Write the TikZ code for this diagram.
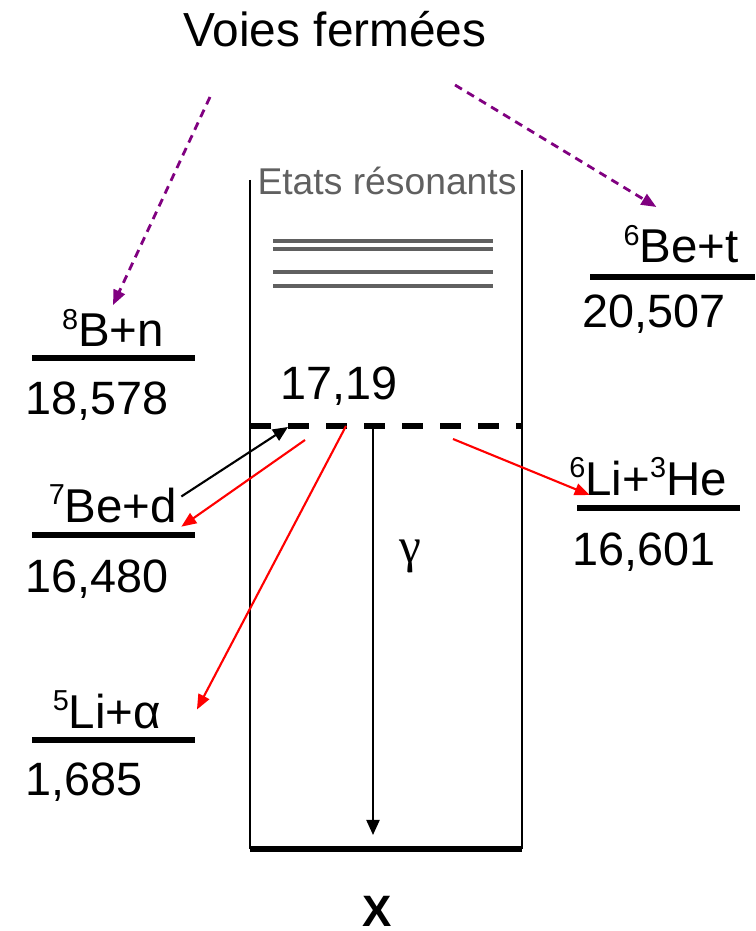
\documentclass[tikz,border=0pt]{standalone}
\usepackage{fontspec}
\setmainfont{Liberation Sans}
\newfontfamily\grserif{Liberation Serif}
\usetikzlibrary{arrows.meta,positioning,calc}
\definecolor{voiepurple}{RGB}{128,0,128}
\definecolor{resgrey}{RGB}{96,96,96}
\newcommand{\nuc}[2]{\raisebox{0.7ex}{\fontsize{8.2}{8.2}\selectfont #1}#2}

\begin{document}
\begin{tikzpicture}[x=0.01cm, y=-0.01cm,
    chan/.style={font=\fontsize{13.5}{16}\selectfont, inner sep=1pt, anchor=base},
    energy/.style={font=\fontsize{13.3}{16}\selectfont, inner sep=0pt, anchor=base west},
    lvl/.style={line width=1.6pt},
    wall/.style={line width=0.6pt},
    resstate/.style={line width=1pt, resgrey},
    voie/.style={-{Triangle[length=1.5mm,width=1.2mm]}, dash pattern=on 2.3pt off 1.7pt,
        line width=0.8pt, voiepurple},
    decay/.style={-{Triangle[length=1.5mm,width=1.2mm]}, line width=0.6pt, red},
    feed/.style={-{Triangle[length=1.5mm,width=1.3mm]}, line width=0.6pt, black}
]
    \useasboundingbox (0,0) rectangle (755,931);

    \node[font=\fontsize{13.6}{16}\selectfont, anchor=base] (title) at (335,47) {Voies fermées};

    % boite des etats
    \draw[wall] (250,180) -- (250,849);
    \draw[wall] (522,170) -- (522,849);
    \draw[lvl] (250,849) -- (522,849);
    \node[font=\fontsize{10.6}{12}\selectfont, text=resgrey, anchor=base, inner sep=0pt] (etats) at (387,195) {Etats résonants};
    \foreach \y in {241,249,272,286}
        \draw[resstate] (273,\y) -- (493,\y);
    \draw[line width=1.9pt, dash pattern=on 5.97pt off 4.84pt] (250,426) -- (522,426);
    \node[energy] (eres) at (280,400) {17,19};

    % voies de sortie
    \node[chan] (bn) at (113,347) {\nuc{8}{B+n}};
    \draw[lvl] (32,358) -- (195,358);
    \node[energy] (ebn) at (25,415) {18,578};

    \node[chan] (bd) at (113,522) {\nuc{7}{Be+d}};
    \draw[lvl] (32,535) -- (195,535);
    \node[energy] (ebd) at (25,592) {16,480};

    \node[chan] (la) at (107,728) {\nuc{5}{Li+α}};
    \draw[lvl] (32,740) -- (195,740);
    \node[energy] (ela) at (25,795) {1,685};

    \node[chan] (bt) at (681,263) {\nuc{6}{Be+t}};
    \draw[lvl] (590,277) -- (755,277);
    \node[energy] (ebt) at (582,328) {20,507};

    \node[chan] (lh) at (648,495) {\nuc{6}{Li+}\nuc{3}{He}};
    \draw[lvl] (577,508) -- (740,508);
    \node[energy] (elh) at (572,565) {16,601};

    % gamma
    \node[font=\fontsize{14}{16}\grserif] (gam) at (410,556) {γ};
    \node[font=\fontsize{12.5}{15}\selectfont\bfseries, anchor=base] (X) at (377,926) {X};
    \coordinate (g0) at (373,427);
    \coordinate (g1) at (373,835);
    \draw[feed] (g0) -- (g1);

    % fleches
    \coordinate (vf1) at (210,97);
    \coordinate (vf2) at (455,85);
    \draw[voie] (vf1) -- (bn.north);
    \draw[voie] (vf2) -- ([xshift=-7pt,yshift=4pt]bt.north);

    \coordinate (rbd) at (288,427);
    \coordinate (r1) at (305,440);
    \coordinate (r2) at (346,426);
    \coordinate (r3) at (453,439);
    \draw[feed] ([yshift=2pt]bd.east) -- (rbd);
    \draw[decay] (r1) -- (bd.south east);
    \draw[decay] (r2) -- ([xshift=9pt]la.east);
    \draw[decay] (r3) -- ([xshift=7pt]lh.base west);
\end{tikzpicture}
\end{document}
